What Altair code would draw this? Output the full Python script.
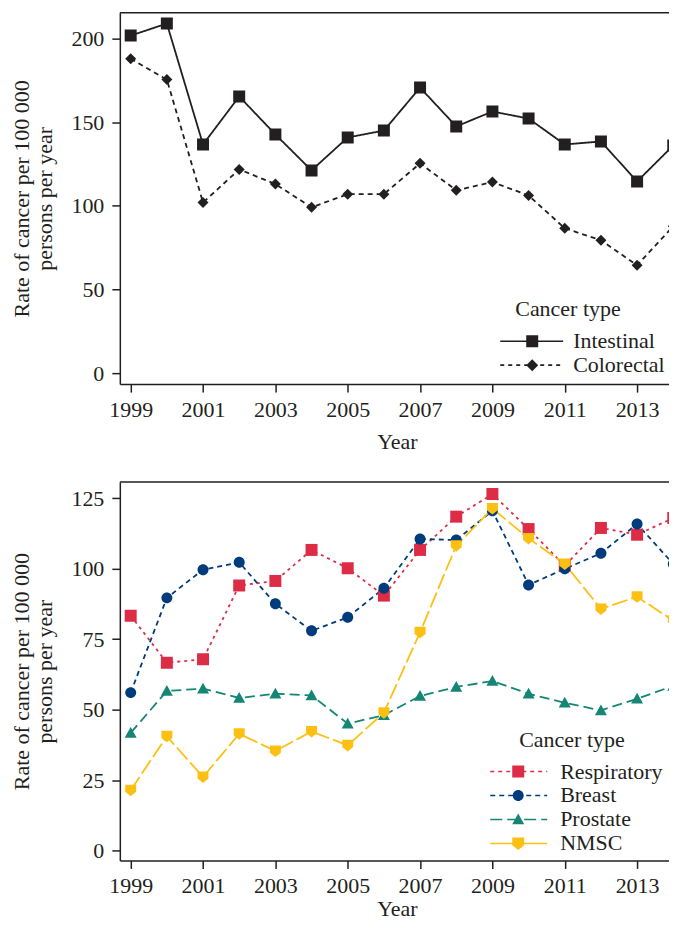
import altair as alt
import pandas as pd

# ---------------- data ----------------
years = list(range(1999, 2015))

top_types = ["Intestinal", "Colorectal"]
intestinal = [201.8, 209.0, 136.7, 165.4, 142.7, 121.2, 140.9, 145.0,
              170.7, 147.5, 156.4, 152.2, 136.7, 138.5, 114.6, 136.1]
colorectal = [188.0, 175.5, 102.0, 121.8, 113.0, 99.1, 107.0, 107.0,
              125.4, 109.3, 114.2, 106.2, 86.6, 79.4, 64.5, 87.8]

bottom_types = ["Respiratory", "Breast", "Prostate", "NMSC"]
respiratory = [83.3, 66.6, 67.8, 94.0, 95.6, 106.6, 100.1, 90.4,
               106.6, 118.4, 126.4, 114.0, 101.0, 114.4, 112.0, 117.9]
breast = [56.0, 89.6, 99.6, 102.2, 87.5, 77.9, 82.7, 93.0,
          110.5, 110.1, 120.5, 94.2, 99.9, 105.4, 115.8, 101.6]
prostate = [41.7, 56.6, 57.4, 54.1, 55.6, 55.0, 45.0, 48.0,
            54.8, 58.0, 60.1, 55.6, 52.4, 49.7, 53.8, 58.4]
nmsc = [21.4, 40.5, 26.1, 41.4, 35.3, 42.2, 37.3, 48.9,
        77.4, 108.1, 121.3, 110.7, 101.6, 85.7, 90.0, 81.5]

x_ticks = [1999, 2001, 2003, 2005, 2007, 2009, 2011, 2013]
top_y_ticks = [0, 50, 100, 150, 200]
bottom_y_ticks = [0, 25, 50, 75, 100, 125]

y_title = ["Rate of cancer per 100 000", "persons per year"]
x_title = "Year"
legend_title = "Cancer type"

# ---------------- styling ----------------
INK = "#231f20"
FONT = "Liberation Serif"
FS = 22
W = 555


def long_df(types, series):
    rows = []
    for t, vals in zip(types, series):
        for yr, v in zip(years, vals):
            rows.append({"Year": yr, "Rate": v, "Type": t})
    return pd.DataFrame(rows)


# marker paths (symbol size 4 -> 1 path unit = 1 px)
def sq(s):
    return f"M{-s},{-s}H{s}V{s}H{-s}Z"


def diamond(d):
    return f"M0,{-d}L{d},0L0,{d}L{-d},0Z"


def circle(r):
    return f"M{r},0A{r},{r},0,1,1,{-r},0A{r},{r},0,1,1,{r},0Z"


def tri(r):
    return f"M0,{-r}L{r},{0.8 * r:.2f}L{-r},{0.8 * r:.2f}Z"


def shield(w):
    return f"M{-w},{-w}H{w}V{0.3 * w:.2f}L0,{1.1 * w:.2f}L{-w},{0.3 * w:.2f}Z"


def dash_rects(x0, x1, on, off, h=0.8):
    if off == 0:
        return f"M{x0},{-h}H{x1}V{h}H{x0}Z"
    parts = []
    x = x0
    while x < x1:
        e = min(x + on, x1)
        parts.append(f"M{x:.1f},{-h}H{e:.1f}V{h}H{x:.1f}Z")
        x = e + off
    return "".join(parts)


def panel(df, types, colors, dashes, markers, legend_paths, ydom, yticks, H,
          lx, ly, symoff, laboff, xtitle_pad):
    x = alt.X("Year:Q",
              scale=alt.Scale(domain=[1998.7, 2014.02], nice=False, zero=False),
              axis=alt.Axis(values=x_ticks, format="d", title=x_title,
                            titlePadding=xtitle_pad))
    y = alt.Y("Rate:Q",
              scale=alt.Scale(domain=ydom, nice=False, zero=False),
              axis=alt.Axis(values=yticks, title=y_title, titlePadding=14,
                            labelPadding=8))
    base = alt.Chart(df)
    col = alt.Scale(domain=types, range=colors)

    lines = base.mark_line(clip=True, strokeWidth=1.8).encode(
        x=x, y=y,
        color=alt.Color("Type:N", scale=col, legend=None),
        strokeDash=alt.StrokeDash("Type:N", scale=alt.Scale(domain=types, range=dashes), legend=None),
        detail="Type:N",
    )
    points = base.mark_point(clip=True, filled=True, opacity=1, size=4).encode(
        x=x, y=y,
        color=alt.Color("Type:N", scale=col, legend=None),
        shape=alt.Shape("Type:N", scale=alt.Scale(domain=types, range=markers), legend=None),
    )
    leg = alt.Legend(
        title=legend_title, orient="none", legendX=lx, legendY=ly,
        symbolSize=4, symbolStrokeWidth=0, symbolOffset=symoff, symbolOpacity=1,
        labelOffset=laboff, labelFont=FONT, labelFontSize=FS, labelColor=INK,
        titleFont=FONT, titleFontSize=FS, titleColor=INK, titleFontWeight="normal",
        padding=0, rowPadding=2, titlePadding=9, labelLimit=0,
    )
    legend_layer = base.transform_filter("false").mark_point(
        filled=True, opacity=1, strokeWidth=0).encode(
        x=x, y=y,
        color=alt.Color("Type:N", scale=col, legend=leg),
        shape=alt.Shape("Type:N", scale=alt.Scale(domain=types, range=legend_paths), legend=leg),
    )
    border = alt.Chart(pd.DataFrame({"edge": ["top"]})).mark_rule(
        color=INK, strokeWidth=1.5).encode(
        y=alt.value(0), x=alt.value(0), x2=alt.value(W))

    return alt.layer(border, lines, points, legend_layer).resolve_scale(
        color="independent", shape="independent", strokeDash="independent"
    ).properties(width=W, height=H)


# ---------- top panel ----------
top_df = long_df(top_types, [intestinal, colorectal])
top_colors = [INK, INK]
top_dashes = [[1, 0], [5, 4]]
top_markers = [sq(6), diamond(5.5)]
top_legend = [
    dash_rects(-32, 31, 1, 0) + sq(6),
    dash_rects(-32, 31, 4, 4) + diamond(6),
]
top = panel(top_df, top_types, top_colors, top_dashes, top_markers, top_legend,
            [-6.6, 215.5], top_y_ticks, 372, 396, 287, 6, 30, 11)

# ---------- bottom panel ----------
bot_df = long_df(bottom_types, [respiratory, breast, prostate, nmsc])
bot_colors = ["#dc2c46", "#003b7c", "#148673", "#fcc013"]
bot_dashes = [[3, 4], [5, 4], [10, 5], [16, 4]]
bot_markers = [sq(6), circle(5.5), tri(6), shield(5.5)]
bot_legend = [
    dash_rects(-28, 29, 4, 4) + sq(6),
    dash_rects(-28, 29, 5, 4) + circle(5.5),
    dash_rects(-28, 29, 12, 5) + tri(6),
    dash_rects(-28, 29, 1, 0) + shield(6),
]
bottom = panel(bot_df, bottom_types, bot_colors, bot_dashes, bot_markers, bot_legend,
               [-3.5, 130.7], bottom_y_ticks, 379, 400, 248, -12, 31, 2)

chart = alt.vconcat(top, bottom, spacing=29).properties(
    padding={"left": 3, "top": 3, "right": -6, "bottom": 0}
).configure(font=FONT).configure_view(stroke=None).configure_axis(
    domainColor=INK, domainWidth=1.5, tickColor=INK, tickWidth=1.5, tickSize=8,
    labelFont=FONT, labelFontSize=FS, labelColor=INK, labelPadding=7, labelFlush=False,
    titleFont=FONT, titleFontSize=FS, titleColor=INK, titleFontWeight="normal",
    titleLineHeight=23, grid=False,
)

chart.save("out.html", embed_options={"renderer": "svg", "actions": False})
